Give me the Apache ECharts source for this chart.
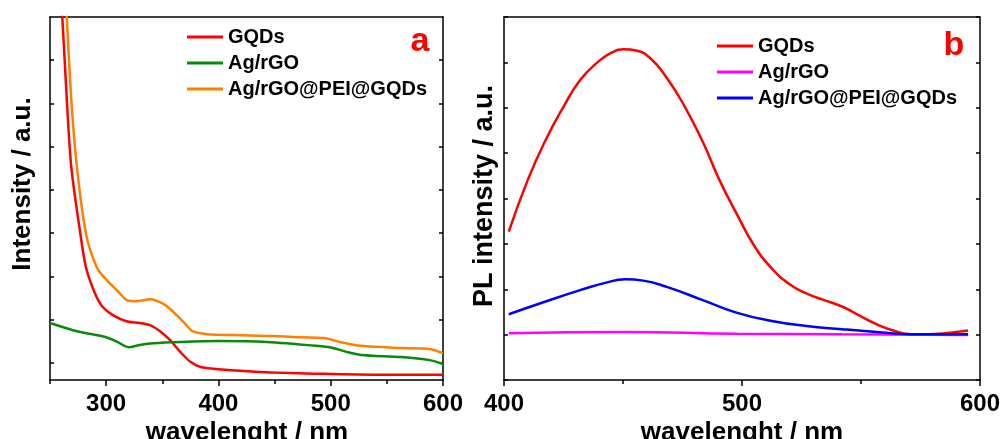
<!DOCTYPE html>
<html>
<head>
<meta charset="utf-8">
<script src="https://cdn.jsdelivr.net/npm/echarts@6/dist/echarts.min.js"></script>
<style>
  html, body { margin: 0; padding: 0; background: #fff; }
  #main { width: 1005px; height: 439px; }
</style>
</head>
<body>
<div id="main"></div>
<script>
// (a) UV-vis, wavelength in nm, intensity in a.u.
var uvWaveGqds = [258, 261, 265, 269, 277, 282, 290, 297, 306, 318, 330, 339, 348, 357, 366, 375, 384, 400, 443, 500, 550, 600];
var uvGqds     = [9.5, 8.38, 6.47, 4.92, 3.39, 2.61, 2.01, 1.69, 1.50, 1.36, 1.32, 1.27, 1.13, 0.92, 0.65, 0.42, 0.30, 0.25, 0.18, 0.14, 0.12, 0.12];

var uvWaveAg = [250, 274, 300, 310, 320, 330, 342, 366, 401, 443, 487, 502, 514, 527, 563, 588, 600];
var uvAg     = [1.32, 1.13, 0.99, 0.88, 0.76, 0.81, 0.85, 0.88, 0.90, 0.88, 0.79, 0.74, 0.65, 0.58, 0.53, 0.46, 0.37];

var uvWaveMix = [263, 265, 269, 274, 282, 291.6, 300.5, 309.5, 318.5, 327, 339, 351, 360, 369, 377, 390, 414, 449, 473, 494, 508, 527, 563, 588, 600];
var uvMix     = [9.5, 8.38, 6.47, 4.92, 3.39, 2.61, 2.31, 2.08, 1.85, 1.82, 1.87, 1.76, 1.57, 1.34, 1.13, 1.06, 1.04, 1.02, 0.99, 0.97, 0.88, 0.79, 0.74, 0.72, 0.62];

// (b) PL spectra
var plWaveGqds = [402, 410, 417.5, 425, 432, 439.5, 445, 450.5, 455.5, 461.5, 468.5, 476, 483.5, 490.5, 498, 505, 512.5, 520, 527, 534.5, 542, 549, 556.5, 563.5, 571, 578.5, 585.5, 595];
var plGqds     = [3.27, 4.41, 5.29, 6.02, 6.61, 7.01, 7.21, 7.29, 7.26, 7.09, 6.65, 6.02, 5.25, 4.41, 3.64, 2.97, 2.46, 2.11, 1.91, 1.76, 1.62, 1.43, 1.23, 1.09, 1.01, 1.01, 1.03, 1.09];

var plWaveAg = [402, 451, 498, 542, 595];
var plAg     = [1.03, 1.06, 1.02, 1.01, 0.99];

var plWaveMix = [402, 417.5, 432, 442.5, 451, 458.5, 469, 483.5, 498, 512.5, 527, 542, 556.5, 571, 595];
var plMix     = [1.45, 1.73, 1.98, 2.14, 2.22, 2.19, 2.04, 1.76, 1.48, 1.30, 1.19, 1.12, 1.06, 1.01, 1.01];

var uvMajorTicks = [300, 400, 500, 600];
var uvMinorTicks = [250, 350, 450, 550];
var uvYTicks = [0.4, 1.4, 2.4, 3.4, 4.4, 5.4, 6.4, 7.4];
var names = ['GQDs', 'Ag/rGO', 'Ag/rGO@PEI@GQDs'];

var FONT = '"Liberation Sans", Arial, sans-serif';

function zip(xs, ys) {
    var out = [];
    for (var i = 0; i < xs.length; i++) {
        out.push([xs[i], ys[i]]);
    }
    return out;
}

function lineSerie(name, color, xIdx, yIdx, data, smooth, width) {
    return {
        name: name,
        type: 'line',
        xAxisIndex: xIdx,
        yAxisIndex: yIdx,
        symbol: 'none',
        smooth: smooth,
        lineStyle: { color: color, width: width },
        itemStyle: { color: color },
        data: data
    };
}

var axisLine = { show: true, onZero: false, lineStyle: { color: '#000', width: 1.5 } };
var tickLine = { color: '#000', width: 1.5 };
var labelStyle = { fontFamily: FONT, fontWeight: 'bold', fontSize: 24, color: '#000', margin: 12 };

var myChart = echarts.init(document.getElementById('main'));

function legendFor(prefix, left, top) {
    return {
        orient: 'vertical', left: left, top: top, padding: 0,
        icon: 'rect', itemWidth: 36, itemHeight: 3, itemGap: 6, selectedMode: false,
        data: [prefix + names[0], prefix + names[1], prefix + names[2]],
        formatter: function (name) { return name.split('|')[1]; },
        textStyle: { fontFamily: FONT, fontWeight: 'bold', fontSize: 20, color: '#000', padding: [0, 0, 0, 0] }
    };
}

var option = {
    animation: false,
    grid: [
        { left: 50, top: 17, width: 393, height: 363 },
        { left: 504, top: 17, width: 476, height: 363 }
    ],
    xAxis: [
        // panel a
        {
            gridIndex: 0, type: 'value', position: 'bottom', min: 250, max: 600, interval: 50,
            axisLine: axisLine,
            axisTick: { show: true, inside: false, length: 6, lineStyle: tickLine, customValues: uvMajorTicks },
            axisLabel: Object.assign({ customValues: uvMajorTicks }, labelStyle),
            splitLine: { show: false }
        },
        {
            gridIndex: 0, type: 'value', position: 'bottom', min: 250, max: 600, interval: 50,
            axisLine: { show: false },
            axisTick: { show: true, inside: false, length: 4, lineStyle: tickLine, customValues: uvMinorTicks },
            axisLabel: { show: false },
            splitLine: { show: false }
        },
        {
            gridIndex: 0, type: 'value', position: 'top', min: 250, max: 600,
            axisLine: axisLine, axisTick: { show: false }, axisLabel: { show: false }, splitLine: { show: false }
        },
        // panel b
        {
            gridIndex: 1, type: 'value', position: 'bottom', min: 400, max: 600, interval: 100,
            axisLine: axisLine,
            axisTick: { show: true, inside: false, length: 6, lineStyle: tickLine },
            minorTick: { show: true, splitNumber: 2, length: 4, lineStyle: tickLine },
            axisLabel: labelStyle,
            splitLine: { show: false }
        },
        {
            gridIndex: 1, type: 'value', position: 'top', min: 400, max: 600,
            axisLine: axisLine, axisTick: { show: false }, axisLabel: { show: false }, splitLine: { show: false }
        }
    ],
    yAxis: [
        {
            gridIndex: 0, type: 'value', position: 'left', min: 0, max: 8.4,
            axisLine: axisLine,
            axisTick: { show: true, inside: true, length: 4, lineStyle: tickLine, customValues: uvYTicks },
            axisLabel: { show: false }, splitLine: { show: false }
        },
        {
            gridIndex: 0, type: 'value', position: 'right', min: 0, max: 8.4,
            axisLine: axisLine,
            axisTick: { show: true, inside: true, length: 4, lineStyle: tickLine, customValues: uvYTicks },
            axisLabel: { show: false }, splitLine: { show: false }
        },
        {
            gridIndex: 1, type: 'value', position: 'left', min: 0, max: 8, interval: 1,
            axisLine: axisLine,
            axisTick: { show: true, inside: true, length: 4, lineStyle: tickLine },
            axisLabel: { show: false }, splitLine: { show: false }
        },
        {
            gridIndex: 1, type: 'value', position: 'right', min: 0, max: 8, interval: 1,
            axisLine: axisLine,
            axisTick: { show: true, inside: true, length: 4, lineStyle: tickLine },
            axisLabel: { show: false }, splitLine: { show: false }
        }
    ],
    legend: [legendFor('a|', 187, 27), legendFor('b|', 717, 36)],
    graphic: [
        { type: 'text', x: 23, y: 184, rotation: Math.PI / 2,
          style: { text: 'Intensity / a.u.', font: 'bold 26px ' + FONT, fill: '#000', align: 'center', verticalAlign: 'middle' } },
        { type: 'text', x: 485, y: 196, rotation: Math.PI / 2,
          style: { text: 'PL intensity / a.u.', font: 'bold 27px ' + FONT, fill: '#000', align: 'center', verticalAlign: 'middle' } },
        { type: 'text', x: 247, y: 433,
          style: { text: 'wavelenght / nm', font: 'bold 26px ' + FONT, fill: '#000', align: 'center', verticalAlign: 'middle' } },
        { type: 'text', x: 742, y: 433,
          style: { text: 'wavelenght / nm', font: 'bold 26px ' + FONT, fill: '#000', align: 'center', verticalAlign: 'middle' } },
        { type: 'text', x: 420, y: 42,
          style: { text: 'a', font: 'bold 34px ' + FONT, fill: '#ff0000', align: 'center', verticalAlign: 'middle' } },
        { type: 'text', x: 954, y: 46,
          style: { text: 'b', font: 'bold 34px ' + FONT, fill: '#ff0000', align: 'center', verticalAlign: 'middle' } }
    ],
    series: [
        lineSerie('a|' + names[0], '#ff0000', 0, 0, zip(uvWaveGqds, uvGqds), 0.3, 2.5),
        lineSerie('a|' + names[1], '#0a8a0a', 0, 0, zip(uvWaveAg, uvAg), 0.3, 2.5),
        lineSerie('a|' + names[2], '#ff8000', 0, 0, zip(uvWaveMix, uvMix), 0.3, 2.5),
        lineSerie('b|' + names[0], '#ff0000', 3, 2, zip(plWaveGqds, plGqds), 0.5, 2.5),
        lineSerie('b|' + names[1], '#ff00ff', 3, 2, zip(plWaveAg, plAg), 0.5, 2.5),
        lineSerie('b|' + names[2], '#0000ff', 3, 2, zip(plWaveMix, plMix), 0.5, 2.5)
    ]
};
myChart.setOption(option);
</script>
</body>
</html>
